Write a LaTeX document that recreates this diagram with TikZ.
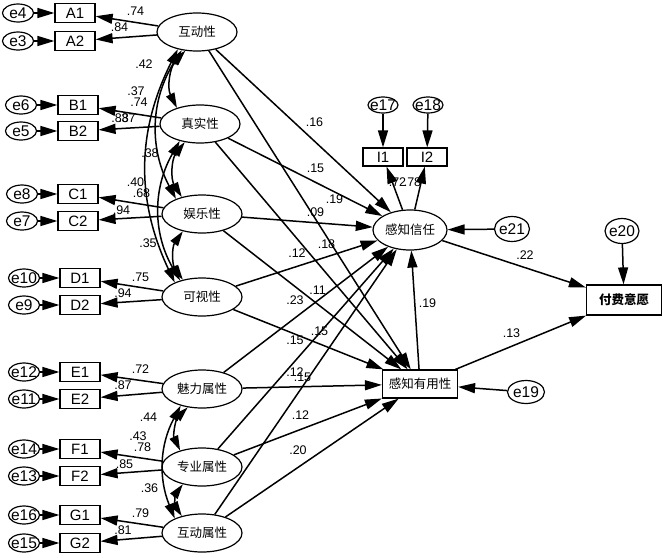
\documentclass[tikz,border=0pt]{standalone}
\usepackage{fontspec}
\setmainfont{Liberation Sans}
\newfontfamily\cjk{Noto Sans CJK SC}
\usetikzlibrary{arrows.meta,shapes.geometric}
\newcommand\zerow[1]{\makebox[0pt]{#1}}
\begin{document}
\begin{tikzpicture}[x=1pt,y=-1pt,
  lat/.style={ellipse,draw,line width=1.2pt,minimum width=80pt,minimum height=38pt,inner sep=0pt,font=\cjk\fontsize{12.5}{13}\selectfont},
  ind/.style={rectangle,draw,line width=1.2pt,minimum width=40pt,minimum height=19pt,inner sep=0pt,font=\fontsize{15}{15}\selectfont},
  err/.style={ellipse,draw,line width=1.2pt,minimum width=31pt,minimum height=18pt,inner sep=0pt,font=\fontsize{15.5}{15}\selectfont},
  arr/.style={line width=1.5pt,-{Triangle[length=17pt,width=10pt]}},
  cov/.style={line width=1.5pt,{Triangle[length=15pt,width=9pt]}-{Triangle[length=15pt,width=9pt]}},
  lab/.style={font=\fontsize{12.5}{12}\selectfont,inner sep=0pt},
]
\useasboundingbox (0,0) rectangle (663,557);
% latent variables
\node[lat] (hd1) at (197,32) {互动性};
\node[lat] (zs) at (200,124) {真实性};
\node[lat] (yl) at (202,214) {娱乐性};
\node[lat] (ks) at (202,297) {可视性};
\node[lat] (ml) at (202,389) {魅力属性};
\node[lat] (zy) at (202,467) {专业属性};
\node[lat] (hd2) at (202,533) {互动属性};
% indicators
\node[ind] (A1) at (75,13) {A1};
\node[ind] (A2) at (75,41) {A2};
\node[ind] (B1) at (78,105) {B1};
\node[ind] (B2) at (78,131) {B2};
\node[ind] (C1) at (78,194) {C1};
\node[ind] (C2) at (78,221) {C2};
\node[ind] (D1) at (80,278) {D1};
\node[ind] (D2) at (80,305) {D2};
\node[ind] (E1) at (80,372) {E1};
\node[ind] (E2) at (80,399) {E2};
\node[ind] (F1) at (80,449) {F1};
\node[ind] (F2) at (80,476) {F2};
\node[ind] (G1) at (80,515) {G1};
\node[ind] (G2) at (80,543) {G2};
% errors
\node[err] (e4) at (18,13) {\zerow{e4}};
\node[err] (e3) at (18,41) {\zerow{e3}};
\node[err] (e6) at (21,105) {\zerow{e6}};
\node[err] (e5) at (21,131) {\zerow{e5}};
\node[err] (e8) at (22,194) {\zerow{e8}};
\node[err] (e7) at (22,221) {\zerow{e7}};
\node[err] (e10) at (24,278) {\zerow{e10}};
\node[err] (e9) at (24,305) {\zerow{e9}};
\node[err] (e12) at (24,372) {\zerow{e12}};
\node[err] (e11) at (24,399) {\zerow{e11}};
\node[err] (e14) at (24,449) {\zerow{e14}};
\node[err] (e13) at (24,476) {\zerow{e13}};
\node[err] (e16) at (24,515) {\zerow{e16}};
\node[err] (e15) at (24,543) {\zerow{e15}};
% right part
\node[lat,minimum width=74pt,minimum height=40pt] (trust) at (410,230) {感知信任};
\node[ind,minimum height=18pt] (I1) at (383,157) {I1};
\node[ind,minimum height=18pt] (I2) at (427,157) {I2};
\node[err,minimum width=30pt,minimum height=16pt] (e17) at (383,105) {\zerow{e17}};
\node[err,minimum width=30pt,minimum height=16pt] (e18) at (428,105) {\zerow{e18}};
\node[err,minimum width=35pt,minimum height=25pt] (e21) at (512,229) {\zerow{e21}};
\node[rectangle,draw,line width=1.2pt,minimum width=75pt,minimum height=28pt,inner sep=0pt,font=\cjk\fontsize{12.5}{13}\selectfont] (use) at (420,384) {感知有用性};
\node[err,minimum width=37pt,minimum height=23pt] (e19) at (526,392) {\zerow{e19}};
\node[rectangle,draw,line width=1.2pt,minimum width=75pt,minimum height=30pt,inner sep=0pt,font=\cjk\bfseries\fontsize{12.5}{13}\selectfont] (pay) at (624,300) {付费意愿};
\node[err,minimum width=34pt,minimum height=25pt] (e20) at (622,231) {\zerow{e20}};
% measurement arrows
\foreach \l/\a/\b/\ea/\eb in {hd1/A1/A2/e4/e3, zs/B1/B2/e6/e5, yl/C1/C2/e8/e7, ks/D1/D2/e10/e9, ml/E1/E2/e12/e11, zy/F1/F2/e14/e13, hd2/G1/G2/e16/e15}{
  \draw[arr] (\l) -- (\a);
  \draw[arr] (\l) -- (\b);
  \draw[arr] (\ea) -- (\a);
  \draw[arr] (\eb) -- (\b);
}
% structural paths
\foreach \s in {hd1,zs,yl,ks,ml,zy,hd2}{
  \draw[arr] (\s) -- (trust);
  \draw[arr] (\s) -- (use);
}
\draw[arr] (trust) -- (I1);
\draw[arr] (trust) -- (I2);
\draw[arr] (e17) -- (I1);
\draw[arr] (e18) -- (I2);
\draw[arr] (e21) -- (trust);
\draw[arr] (e19) -- (use);
\draw[arr] (e20) -- (pay);
\draw[arr] (use) -- (trust);
\draw[arr] (trust) -- (pay);
\draw[arr] (use) -- (pay);
% covariances
\draw[cov] (hd1.238) to[bend right=35] (zs.145);
\draw[cov] (hd1.230) to[bend right=30] (yl.150);
\draw[cov] (hd1.222) to[bend right=26] (ks.152);
\draw[cov] (zs.230) to[bend right=35] (yl.140);
\draw[cov] (zs.220) to[bend right=30] (ks.143);
\draw[cov] (yl.222) to[bend right=35] (ks.138);
\draw[cov] (ml.232) to[bend right=35] (zy.143);
\draw[cov] (zy.222) to[bend right=35] (hd2.140);
\draw[cov] (ml.218) to[bend right=25] (hd2.152);
% labels
\node[lab] (l1) at (135.5,11.5) {.74};
\node[lab] (l2) at (119.5,27.5) {.84};
\node[lab] (l3) at (144,64) {.42};
\node[lab] (l4) at (136,91) {.37};
\node[lab] (l5) at (139,102) {.74};
\node[lab] (l6) at (120,118.5) {.83};
\node[lab] (l7) at (127,118) {.87};
\node[lab] (l8) at (150,153.5) {.38};
\node[lab] (l9) at (135.5,182) {.40};
\node[lab] (l10) at (141.5,193) {.68};
\node[lab] (l11) at (121.5,210) {.94};
\node[lab] (l12) at (148,243) {.35};
\node[lab] (l13) at (140.5,277) {.75};
\node[lab] (l14) at (123,293) {.94};
\node[lab] (l15) at (140.5,369) {.72};
\node[lab] (l16) at (123,385.5) {.87};
\node[lab] (l17) at (148.5,417.5) {.44};
\node[lab] (l18) at (138,436.5) {.43};
\node[lab] (l19) at (142.5,447.5) {.78};
\node[lab] (l20) at (124.5,464) {.85};
\node[lab] (l21) at (149.5,488.5) {.36};
\node[lab] (l22) at (140.5,513.5) {.79};
\node[lab] (l23) at (123,530.5) {.81};
\node[lab] (p1) at (314.5,122.5) {.16};
\node[lab] (p2) at (315.5,168.5) {.15};
\node[lab] (p3) at (334.5,199.5) {.19};
\node[lab] (p4) at (315.5,212) {.09};
\node[lab] (p5) at (326.5,244.5) {.18};
\node[lab] (p6) at (297,253.5) {.12};
\node[lab] (p7) at (317.5,290.5) {.11};
\node[lab] (p8) at (295,300.5) {.23};
\node[lab] (p9) at (319.5,331.5) {.15};
\node[lab] (p10) at (295,340.5) {.15};
\node[lab] (p11) at (295,372.5) {.12};
\node[lab] (p12) at (302.5,377.5) {.15};
\node[lab] (p13) at (300.5,415.5) {.12};
\node[lab] (p14) at (298,450) {.20};
\node[lab] (r1) at (397.5,182.5) {.72};
\node[lab] (r2) at (412.5,182.5) {.78};
\node[lab] (r3) at (427.5,303) {.19};
\node[lab] (r4) at (525,255) {.22};
\node[lab] (r5) at (511.5,333) {.13};
\end{tikzpicture}
\end{document}
